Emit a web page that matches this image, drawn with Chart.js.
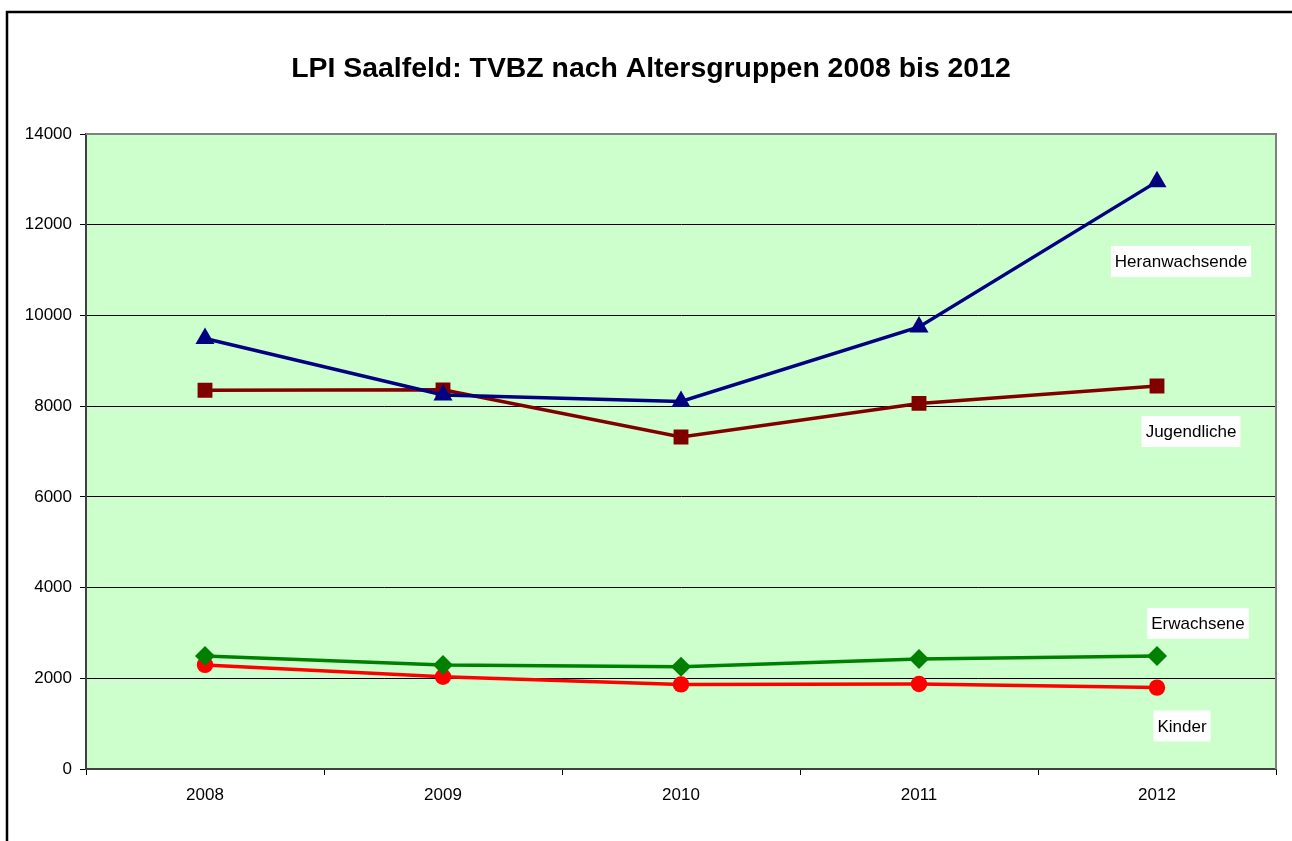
<!DOCTYPE html>
<html>
<head>
<meta charset="utf-8">
<script src="https://cdn.jsdelivr.net/npm/chart.js@4.4.1/dist/chart.umd.min.js"></script>
<style>
  body { margin: 0; background: #fff; }
  canvas { display: block; }
</style>
</head>
<body>
<canvas id="tvbzGraph" width="1292" height="841"></canvas>
<script>
const years = ['2008', '2009', '2010', '2011', '2012'];
const heranwachsende = [9490, 8245, 8105, 9745, 12950];
const jugendliche = [8350, 8360, 7320, 8060, 8445];
const erwachsene = [2490, 2295, 2255, 2425, 2490];
const kinder = [2295, 2035, 1865, 1875, 1795];
const yTicks = [0, 2000, 4000, 6000, 8000, 10000, 12000, 14000];

const titleText = 'LPI Saalfeld: TVBZ nach Altersgruppen 2008 bis 2012';
const fontFamily = '"Liberation Sans", Arial, sans-serif';

// series name boxes inside the plot, placed near the 2012 point (value, pixel shift right)
const seriesLabels = [
  { text: 'Heranwachsende', value: 11190, dx: 24 },
  { text: 'Jugendliche', value: 7440, dx: 34 },
  { text: 'Erwachsene', value: 3210, dx: 41 },
  { text: 'Kinder', value: 950, dx: 25 }
];

const framePlugin = {
  id: 'frame',
  beforeDraw(chart) {
    const { ctx, chartArea: a } = chart;
    ctx.save();
    ctx.fillStyle = '#fff';
    ctx.fillRect(0, 0, chart.width, chart.height);
    // outer black border
    ctx.strokeStyle = '#000';
    ctx.lineWidth = 2.5;
    ctx.strokeRect(7, 12, chart.width + 20, chart.height + 20);
    // plot background
    ctx.fillStyle = '#CCFFCC';
    ctx.fillRect(a.left, a.top, a.right - a.left, a.bottom - a.top);
    ctx.restore();
  },
  afterDraw(chart) {
    const { ctx, chartArea: a } = chart;
    ctx.save();
    ctx.strokeStyle = '#808080';
    ctx.lineWidth = 2;
    ctx.beginPath();
    ctx.moveTo(a.left, a.top);
    ctx.lineTo(a.right, a.top);
    ctx.lineTo(a.right, a.bottom);
    ctx.stroke();
    // title
    ctx.fillStyle = '#000';
    ctx.font = 'bold 28.4px ' + fontFamily;
    ctx.textAlign = 'center';
    ctx.textBaseline = 'alphabetic';
    ctx.fillText(titleText, 651, 77);
    ctx.restore();
  },
  afterDatasetsDraw(chart) {
    const { ctx } = chart;
    const xs = chart.scales.x;
    const ys = chart.scales.y;
    const baseX = xs.getPixelForValue(years.length - 1);
    ctx.save();
    ctx.font = '17px ' + fontFamily;
    ctx.textAlign = 'center';
    ctx.textBaseline = 'middle';
    seriesLabels.forEach(l => {
      const x = baseX + l.dx;
      const y = ys.getPixelForValue(l.value);
      const w = ctx.measureText(l.text).width + 8;
      ctx.fillStyle = '#fff';
      ctx.fillRect(x - w / 2, y - 15.5, w, 31);
      ctx.fillStyle = '#000';
      ctx.fillText(l.text, x, y + 1);
    });
    ctx.restore();
  }
};

const ctx = document.getElementById('tvbzGraph').getContext('2d');

new Chart(ctx, {
  type: 'line',
  data: {
    labels: years,
    datasets: [
      {
        label: 'Heranwachsende',
        data: heranwachsende,
        borderColor: '#000080',
        backgroundColor: '#000080',
        borderWidth: 3.5,
        pointStyle: 'triangle',
        pointRadius: 11,
        pointBorderWidth: 0,
        tension: 0
      },
      {
        label: 'Jugendliche',
        data: jugendliche,
        borderColor: '#800000',
        backgroundColor: '#800000',
        borderWidth: 3.5,
        pointStyle: 'rect',
        pointRadius: 10.5,
        pointBorderWidth: 0,
        tension: 0
      },
      {
        label: 'Erwachsene',
        data: erwachsene,
        borderColor: '#008000',
        backgroundColor: '#008000',
        borderWidth: 3.5,
        pointStyle: 'rectRot',
        pointRadius: 10,
        pointBorderWidth: 0,
        tension: 0
      },
      {
        label: 'Kinder',
        data: kinder,
        borderColor: '#FF0000',
        backgroundColor: '#FF0000',
        borderWidth: 3.5,
        pointStyle: 'circle',
        pointRadius: 8.2,
        pointBorderWidth: 0,
        tension: 0
      }
    ]
  },
  options: {
    responsive: false,
    animation: false,
    layout: {
      padding: { left: 0, top: 134, right: 16, bottom: 0 }
    },
    plugins: {
      legend: { display: false },
      tooltip: { enabled: false }
    },
    scales: {
      x: {
        offset: true,
        afterFit(scale) { scale.height = 72; },
        grid: {
          offset: true,
          drawOnChartArea: false,
          drawTicks: true,
          tickLength: 6,
          tickColor: '#000',
          tickWidth: 1
        },
        border: { color: '#404040', width: 2 },
        ticks: {
          color: '#000',
          padding: 10,
          font: { family: fontFamily, size: 17 }
        }
      },
      y: {
        min: 0,
        max: 14000,
        afterFit(scale) { scale.width = 86; },
        afterBuildTicks(scale) {
          scale.ticks = yTicks.map(v => ({ value: v }));
        },
        grid: {
          color: '#000',
          lineWidth: 1,
          drawTicks: true,
          tickLength: 6,
          tickColor: '#000'
        },
        border: { color: '#404040', width: 2 },
        ticks: {
          color: '#000',
          padding: 8,
          font: { family: fontFamily, size: 17 },
          callback: v => String(v)
        }
      }
    }
  },
  plugins: [framePlugin]
});
</script>
</body>
</html>
